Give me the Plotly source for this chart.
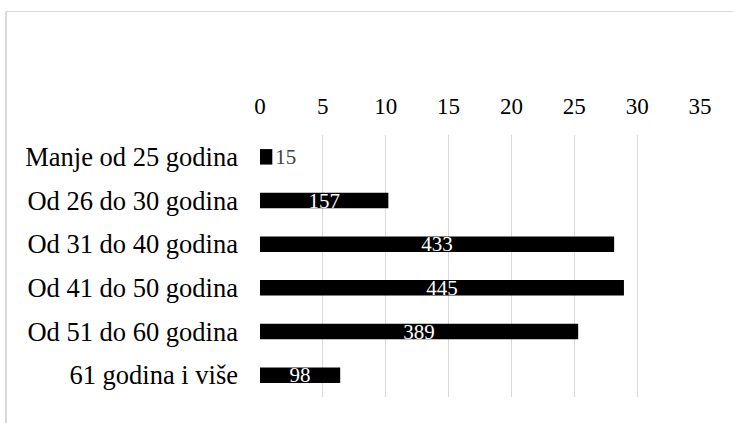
import plotly.graph_objects as go

categories = ["Manje od 25 godina", "Od 26 do 30 godina", "Od 31 do 40 godina",
              "Od 41 do 50 godina", "Od 51 do 60 godina", "61 godina i više"]
percent = [0.98, 10.21, 28.17, 28.95, 25.31, 6.38]
counts = [15, 157, 433, 445, 389, 98]
x_ticks = [0, 5, 10, 15, 20, 25, 30, 35]

FONT = "Liberation Serif, Times New Roman, serif"
text_pos = ["outside" if p < 3 else "inside" for p in percent]

fig = go.Figure(go.Bar(
    y=categories, x=percent, orientation="h",
    text=[str(c) for c in counts], textposition=text_pos,
    insidetextanchor="middle", constraintext="none",
    insidetextfont=dict(family=FONT, size=21, color="white"),
    outsidetextfont=dict(family=FONT, size=21, color="#404040"),
    textangle=0, cliponaxis=False,
    marker=dict(color="black", line=dict(width=0)),
    width=0.355, hoverinfo="skip",
))

W, H = 733, 423
ml, mr, mt, mb = 260, 33, 134.5, 25.5
pw, ph = W - ml - mr, H - mt - mb

def px_x(v):
    return (v - ml) / pw

def px_y(v):
    return (H - mb - v) / ph

fig.update_layout(
    width=W, height=H,
    margin=dict(l=ml, r=mr, t=mt, b=mb, pad=0, autoexpand=False),
    paper_bgcolor="white", plot_bgcolor="white",
    showlegend=False,
    uniformtext=dict(mode=False),
    xaxis=dict(side="top", range=[0, 35], tickvals=x_ticks,
               ticktext=[str(t) for t in x_ticks],
               showgrid=True, gridcolor="#d9d9d9", gridwidth=1,
               zeroline=False, showline=False, ticks="",
               ticklabelstandoff=15,
               tickfont=dict(family=FONT, size=23, color="black")),
    yaxis=dict(categoryorder="array", categoryarray=categories,
               autorange="reversed", showgrid=False, zeroline=False,
               showline=False, ticks="", ticklabelstandoff=21,
               tickfont=dict(family=FONT, size=26.5, color="black")),
    shapes=[
        dict(type="line", xref="paper", yref="paper",
             x0=px_x(6), x1=px_x(W + 5), y0=px_y(10.5), y1=px_y(10.5),
             line=dict(color="#d9d9d9", width=1)),
        dict(type="line", xref="paper", yref="paper",
             x0=px_x(6), x1=px_x(6), y0=px_y(10.5), y1=px_y(H + 5),
             line=dict(color="#d9d9d9", width=2)),
    ],
)

fig.write_html("out.html", config={"displayModeBar": False},
               post_script="document.body.style.margin='0';document.body.style.overflow='hidden';")
